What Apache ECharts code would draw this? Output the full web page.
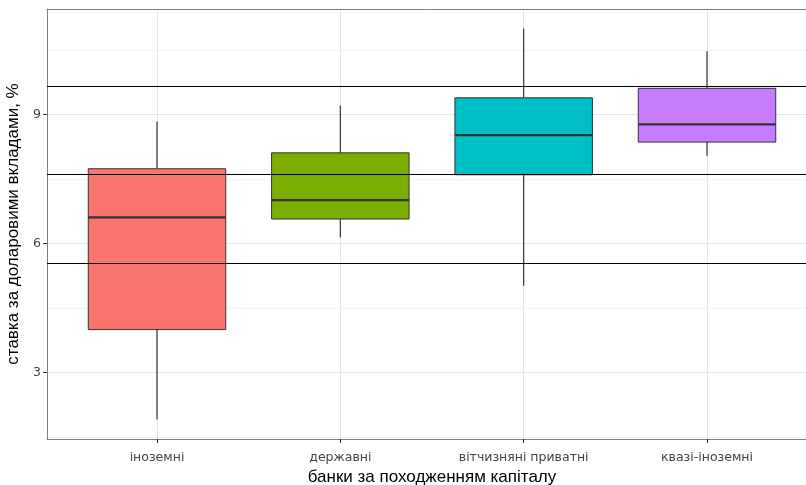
<!DOCTYPE html>
<html>
<head>
<meta charset="utf-8">
<script src="https://cdn.jsdelivr.net/npm/echarts@6/dist/echarts.min.js"></script>
<style>
  html, body { margin: 0; padding: 0; background: #ffffff; }
  #chart { width: 806px; height: 485px; }
</style>
</head>
<body>
<div id="chart"></div>
<script>
// Bank groups by origin of capital
const categories = ['іноземні', 'державні', 'вітчизняні приватні', 'квазі-іноземні'];

// Box statistics: whiskers, quartiles and median (%)
const lowWhisker  = [1.91, 6.14, 5.02, 8.04];
const q1          = [4.00, 6.57, 7.60, 8.36];
const median      = [6.61, 7.01, 8.52, 8.77];
const q3          = [7.74, 8.11, 9.39, 9.61];
const highWhisker = [8.84, 9.21, 11.00, 10.47];

// Overall mean and mean ± one standard deviation
const refLines = [9.67, 7.61, 5.55];

// Y axis ticks
const majorTicks = [3, 6, 9];
const minorTicks = [1.5, 4.5, 7.5, 10.5];

const colors = ['#F8766D', '#7CAE00', '#00BFC4', '#C77CFF'];

const yMin = 1.455, yMax = 11.455;
const titleFont = 'Liberation Sans, Arial, sans-serif';
const tickFont = 'DejaVu Sans, Verdana, sans-serif';
const frameLine = { show: true, lineStyle: { color: '#7f7f7f', width: 1 } };

const chart = echarts.init(document.getElementById('chart'), null, { renderer: 'canvas' });

// Box, whiskers and median drawn per category, box width = 0.75 of a category step
function renderBox(params, api) {
  const i = api.value(0);
  const xc = api.coord([i, api.value(3)])[0];
  const half = api.size([1, 0])[0] * 0.375;
  const yLow = api.coord([i, api.value(1)])[1];
  const yQ1 = api.coord([i, api.value(2)])[1];
  const yMed = api.coord([i, api.value(3)])[1];
  const yQ3 = api.coord([i, api.value(4)])[1];
  const yHigh = api.coord([i, api.value(5)])[1];
  const stroke = '#333333';
  return {
    type: 'group',
    children: [
      { type: 'line', shape: { x1: xc, y1: yQ1, x2: xc, y2: yLow }, style: { stroke: stroke, lineWidth: 1.2 } },
      { type: 'line', shape: { x1: xc, y1: yQ3, x2: xc, y2: yHigh }, style: { stroke: stroke, lineWidth: 1.2 } },
      { type: 'rect', shape: { x: xc - half, y: yQ3, width: half * 2, height: yQ1 - yQ3 },
        style: { fill: colors[i], stroke: stroke, lineWidth: 1 } },
      { type: 'line', shape: { x1: xc - half, y1: yMed, x2: xc + half, y2: yMed }, style: { stroke: stroke, lineWidth: 2.2 } }
    ]
  };
}

chart.setOption({
  animation: false,
  backgroundColor: '#ffffff',
  grid: [
    { left: 47, top: 9, right: -11, bottom: 46, show: false, outerBoundsMode: 'none', containLabel: false },
    { left: 157, top: 9, right: 99, bottom: 46, show: false, outerBoundsMode: 'none', containLabel: false }
  ],
  xAxis: [
    // frame: bottom edge
    { gridIndex: 0, type: 'value', min: 0, max: 1, position: 'bottom',
      axisLine: frameLine, axisTick: { show: false }, axisLabel: { show: false }, splitLine: { show: false } },
    {
      gridIndex: 1, type: 'category', data: categories, boundaryGap: false,
      axisLine: { show: false },
      axisTick: { show: true, length: 4, inside: false, lineStyle: { color: '#333333' } },
      axisLabel: { margin: 12, fontSize: 12.5, color: '#444444', fontFamily: tickFont },
      splitLine: { show: true, lineStyle: { color: '#e6e6e6', width: 1 } },
      name: 'банки за походженням капіталу',
      nameLocation: 'middle', nameGap: 30,
      nameTextStyle: { fontSize: 17, color: '#000000', fontFamily: titleFont }
    },
    // frame: top edge
    { gridIndex: 0, type: 'value', min: 0, max: 1, position: 'top',
      axisLine: frameLine, axisTick: { show: false }, axisLabel: { show: false }, splitLine: { show: false } }
  ],
  yAxis: [
    {
      gridIndex: 0, type: 'value', min: yMin, max: yMax, position: 'left',
      axisLine: frameLine,
      axisTick: { show: true, length: 4, customValues: majorTicks, lineStyle: { color: '#333333' } },
      axisLabel: { customValues: majorTicks, margin: 6, fontSize: 12.5, color: '#444444', fontFamily: tickFont },
      splitLine: { show: true, lineStyle: { color: '#e6e6e6', width: 1 } },
      name: 'ставка за доларовими вкладами, %',
      nameLocation: 'middle', nameGap: 18, nameRotate: 90,
      nameTextStyle: { fontSize: 17, color: '#000000', fontFamily: titleFont }
    },
    {
      gridIndex: 0, type: 'value', min: yMin, max: yMax,
      axisLine: { show: false },
      axisTick: { show: false, customValues: minorTicks },
      axisLabel: { show: false, customValues: minorTicks },
      splitLine: { show: true, lineStyle: { color: '#f4f4f4', width: 1 } }
    },
    { gridIndex: 1, type: 'value', min: yMin, max: yMax, show: false, splitLine: { show: false } }
  ],
  series: [
    {
      type: 'custom',
      xAxisIndex: 1, yAxisIndex: 2,
      data: categories.map((c, i) => [i, lowWhisker[i], q1[i], median[i], q3[i], highWhisker[i]]),
      encode: { x: 0, y: [1, 2, 3, 4, 5] },
      renderItem: renderBox,
      z: 3
    },
    {
      type: 'line',
      xAxisIndex: 0, yAxisIndex: 0,
      data: [],
      markLine: {
        silent: true,
        symbol: 'none',
        label: { show: false },
        lineStyle: { color: '#000000', width: 1.2, type: 'solid' },
        data: refLines.map(v => ({ yAxis: v }))
      },
      z: 6
    }
  ]
});
</script>
</body>
</html>
